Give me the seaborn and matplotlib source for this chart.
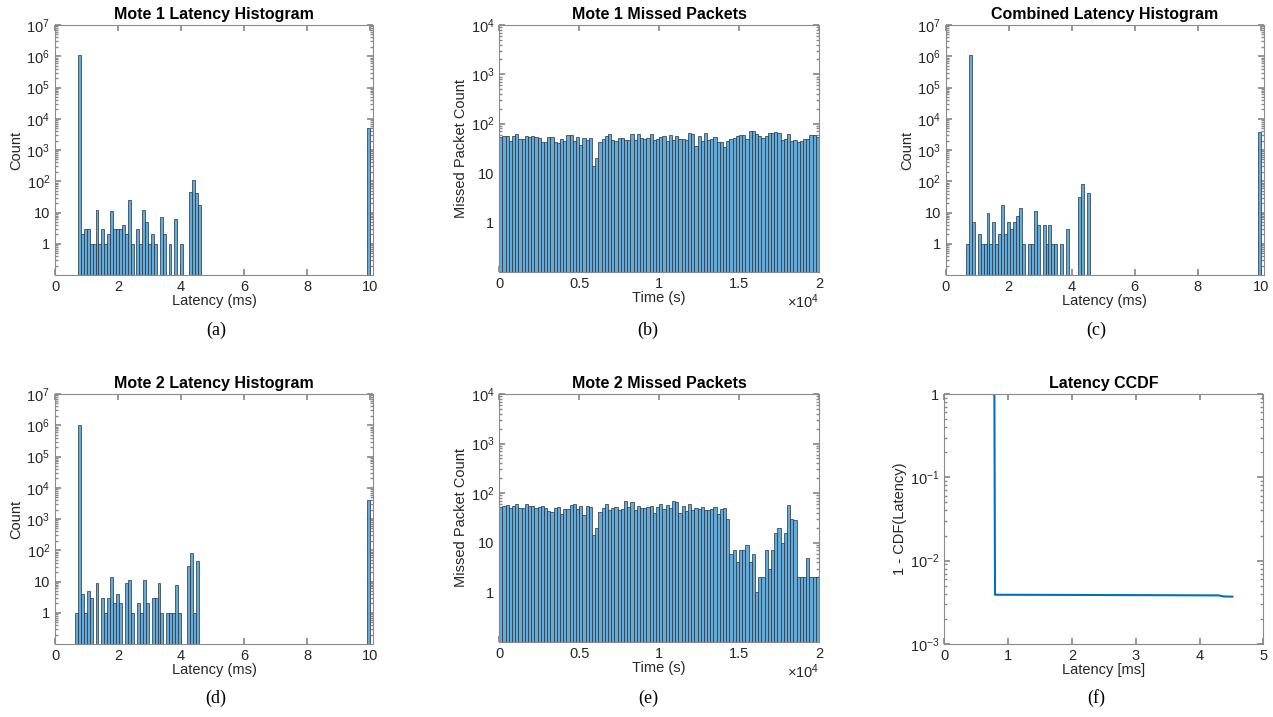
import numpy as np
import pandas as pd
import matplotlib
matplotlib.use("Agg")
import matplotlib.pyplot as plt
import seaborn as sns

# ---------------- data ----------------
# latency histograms: 100 equal bins between min latency and 10 ms
mote1_lat_range = (0.73, 10.0)
mote1_lat_counts = ([1070000, 2, 3, 3, 1, 1, 12, 1, 3, 1, 2, 11, 3, 3, 3, 4, 2, 26, 1, 0,
                     3, 1, 12, 5, 1, 2, 1, 0, 7, 2, 0, 1, 0, 6, 0, 1, 0, 0, 44, 113, 41, 18]
                    + [0] * 57 + [5000])

comb_lat_range = (0.64, 10.0)
comb_lat_counts = ([1, 1070000, 5, 0, 2, 1, 1, 10, 1, 5, 1, 2, 17, 2, 5, 3, 5, 8, 14, 1,
                    0, 1, 1, 11, 4, 0, 4, 1, 4, 1, 1, 0, 1, 0, 3, 0, 0, 0, 31, 80, 0, 43]
                   + [0] * 57 + [3800])

mote2_lat_range = (0.63, 10.0)
mote2_lat_counts = ([1, 1000000, 4, 1, 5, 3, 0, 9, 0, 3, 1, 3, 14, 2, 4, 2, 0, 9, 11, 1,
                     0, 2, 1, 11, 2, 0, 3, 3, 9, 1, 0, 1, 1, 1, 8, 1, 0, 0, 31, 82, 1, 44]
                    + [0] * 57 + [4000])

# missed packets per 200 s bin, 0 .. 2e4 s
mote1_missed = [53, 55, 56, 45, 55, 61, 50, 48, 55, 53, 57, 53, 51, 42, 42, 53, 53, 42, 41, 49,
                45, 60, 60, 44, 53, 37, 52, 46, 52, 14, 20, 42, 48, 56, 62, 46, 45, 52, 52, 46,
                47, 63, 47, 62, 52, 48, 52, 62, 47, 50, 54, 56, 44, 58, 46, 56, 48, 50, 46, 65,
                63, 36, 55, 44, 65, 46, 49, 54, 42, 42, 34, 45, 48, 52, 55, 60, 58, 50, 72, 72,
                61, 57, 52, 55, 64, 64, 68, 66, 47, 48, 62, 45, 46, 42, 44, 50, 49, 60, 59, 53]

mote2_missed = [53, 54, 58, 50, 55, 61, 49, 49, 60, 55, 54, 50, 52, 54, 51, 44, 42, 50, 52, 38,
                48, 47, 58, 60, 47, 55, 36, 55, 52, 14, 20, 42, 49, 60, 45, 50, 53, 46, 48, 70,
                52, 65, 46, 55, 50, 50, 52, 55, 40, 52, 60, 48, 57, 50, 68, 65, 40, 55, 43, 60,
                46, 50, 48, 52, 46, 45, 47, 52, 38, 47, 50, 30,
                6, 7, 4, 7, 7, 9, 4, 6, 1, 2, 2, 7, 3, 7, 16, 20, 10, 16, 58, 30,
                29, 2, 2, 2, 5, 2, 2, 2]
time_bin = 200

# CCDF curve
ccdf_latency = [0.73, 0.785, 0.795, 2.0, 3.5, 4.3, 4.38, 4.52]
ccdf_value = [1.0, 1.0, 0.0039, 0.00388, 0.00385, 0.00383, 0.00372, 0.00370]

# ---------------- style ----------------
sns.set_theme(style="white")
plt.rcParams['font.family'] = ['Liberation Sans', 'DejaVu Sans']
plt.rcParams['mathtext.fontset'] = 'custom'
plt.rcParams['mathtext.rm'] = 'Liberation Sans'
plt.rcParams['mathtext.it'] = 'Liberation Sans:italic'

BAR_FACE = (0.40, 0.668, 0.845)
BAR_EDGE = '#23323f'
LINE_BLUE = '#0072BD'
TXT = '#262626'
FS = 10.5
TITLE_FS = 11.5

W, H = 1273, 717
fig = plt.figure(figsize=(W / 100, H / 100), dpi=100)


def box(l, t, r, b):
    return fig.add_axes([l / W, 1 - b / H, (r - l) / W, (b - t) / H])


def style_axes(ax):
    for s in ax.spines.values():
        s.set_color('#8a8a8a')
        s.set_linewidth(0.8)
    ax.tick_params(which='both', direction='in', top=True, right=True,
                   left=True, bottom=True,
                   colors='#8a8a8a', labelcolor=TXT, labelsize=FS)
    ax.tick_params(which='major', length=4)
    ax.tick_params(which='minor', length=2)


def pow_label(e):
    if e == 0:
        return '1'
    if e == 1:
        return '10'
    return r'$10^{%d}$' % e


def draw_bars(ax, edges, counts):
    df = pd.DataFrame({'center': (edges[:-1] + edges[1:]) / 2,
                       'count': np.asarray(counts, dtype=float)})
    sns.histplot(data=df, x='center', weights='count', bins=list(edges), ax=ax,
                 color=BAR_FACE, alpha=1, edgecolor=BAR_EDGE, linewidth=0.5)


def latency_hist(ax, rng, counts, title):
    edges = np.linspace(rng[0], rng[1], len(counts) + 1)
    draw_bars(ax, edges, counts)
    ax.set_yscale('log')
    ax.set_ylim(0.1, 1e7)
    ax.set_xlim(0, 10.1)
    ax.set_xticks([0, 2, 4, 6, 8, 10])
    ax.set_yticks([10.0 ** e for e in range(0, 8)])
    ax.set_yticklabels([pow_label(e) for e in range(0, 8)])
    ax.set_xlabel('Latency (ms)', fontsize=FS, color=TXT, labelpad=0)
    ax.set_ylabel('Count', fontsize=FS, color=TXT, labelpad=2)
    ax.set_title(title, fontsize=TITLE_FS, fontweight='bold', color='black', pad=4)
    style_axes(ax)


def missed_hist(ax, counts, title):
    edges = np.arange(len(counts) + 1) * float(time_bin)
    draw_bars(ax, edges, counts)
    ax.set_yscale('log')
    ax.set_ylim(0.1, 1e4)
    ax.set_xlim(0, 20000)
    ax.set_xticks([0, 5000, 10000, 15000, 20000])
    ax.set_xticklabels(['0', '0.5', '1', '1.5', '2'])
    ax.set_yticks([10.0 ** e for e in range(0, 5)])
    ax.set_yticklabels([pow_label(e) for e in range(0, 5)])
    ax.set_xlabel('Time (s)', fontsize=FS, color=TXT, labelpad=0)
    ax.set_ylabel('Missed Packet Count', fontsize=FS, color=TXT, labelpad=2)
    ax.set_title(title, fontsize=TITLE_FS, fontweight='bold', color='black', pad=4)
    ax.text(1.0, -0.085, r'$\times10^{4}$', transform=ax.transAxes, ha='right',
            va='top', fontsize=FS, color=TXT)
    style_axes(ax)


ax_a = box(55, 25, 373.3, 275)
ax_b = box(499.3, 25, 819, 271.7)
ax_c = box(945.7, 25, 1264, 275)
ax_d = box(55, 394, 373.3, 644)
ax_e = box(499.3, 394, 819, 641.7)
ax_f = box(944.3, 394, 1263.3, 644)

latency_hist(ax_a, mote1_lat_range, mote1_lat_counts, 'Mote 1 Latency Histogram')
missed_hist(ax_b, mote1_missed, 'Mote 1 Missed Packets')
latency_hist(ax_c, comb_lat_range, comb_lat_counts, 'Combined Latency Histogram')
latency_hist(ax_d, mote2_lat_range, mote2_lat_counts, 'Mote 2 Latency Histogram')
missed_hist(ax_e, mote2_missed, 'Mote 2 Missed Packets')

# CCDF
ccdf_df = pd.DataFrame({'latency': ccdf_latency, 'ccdf': ccdf_value})
sns.lineplot(data=ccdf_df, x='latency', y='ccdf', ax=ax_f, color=LINE_BLUE,
             linewidth=1.5, sort=False, estimator=None)
ax_f.set_yscale('log')
ax_f.set_ylim(1e-3, 1)
ax_f.set_xlim(0, 5)
ax_f.set_xticks([0, 1, 2, 3, 4, 5])
ax_f.set_yticks([1e-3, 1e-2, 1e-1, 1])
ax_f.set_yticklabels([pow_label(-3), pow_label(-2), pow_label(-1), '1'])
ax_f.set_xlabel('Latency [ms]', fontsize=FS, color=TXT, labelpad=0)
ax_f.set_ylabel('1 - CDF(Latency)', fontsize=FS, color=TXT, labelpad=2)
ax_f.set_title('Latency CCDF', fontsize=TITLE_FS, fontweight='bold', color='black', pad=4)
style_axes(ax_f)

# sub-figure captions
for lab, x, y in [('(a)', 216, 330), ('(b)', 648, 330), ('(c)', 1096, 330),
                  ('(d)', 216, 698), ('(e)', 648, 698), ('(f)', 1096, 698)]:
    fig.text(x / W, 1 - y / H, lab, ha='center', va='center', fontsize=13,
             family=['Liberation Serif', 'DejaVu Serif'], color='black')

fig.savefig('out.png', dpi=100)
